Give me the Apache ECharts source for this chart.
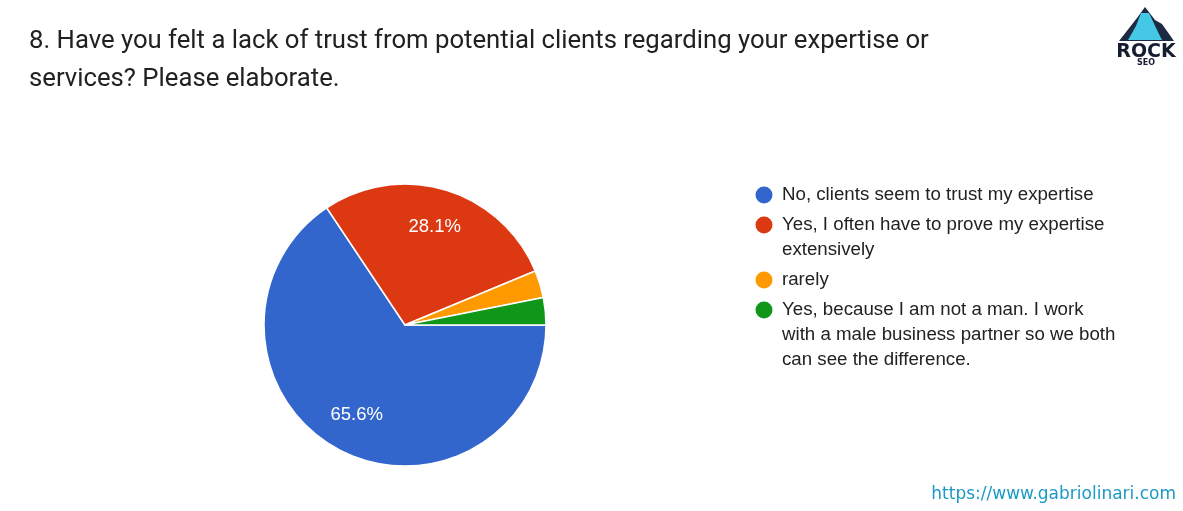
<!DOCTYPE html>
<html>
<head>
<meta charset="utf-8">
<script src="https://cdn.jsdelivr.net/npm/echarts@6/dist/echarts.min.js"></script>
<style>
html,body{margin:0;padding:0;background:#fff;}
#main{width:1183px;height:511px;}
</style>
</head>
<body>
<div id="main"></div>
<script>
const titleText = "8. Have you felt a lack of trust from potential clients regarding your expertise or\nservices? Please elaborate.";
const categories = [
  "No, clients seem to trust my expertise",
  "Yes, I often have to prove my expertise extensively",
  "rarely",
  "Yes, because I am not a man. I work with a male business partner so we both can see the difference."
];
// legend text as it is wrapped in the picture
const legendLabels = [
  "No, clients seem to trust my expertise",
  "Yes, I often have to prove my expertise\nextensively",
  "rarely",
  "Yes, because I am not a man. I work\nwith a male business partner so we both\ncan see the difference."
];
const counts = [21, 9, 1, 1];
const colors = ["#3366cc", "#dc3912", "#ff9900", "#109618"];
const footerText = "https://www.gabriolinari.com";

const chart = echarts.init(document.getElementById('main'), null, {renderer: 'canvas'});

const pieData = categories.map((c, i) => ({name: c, value: counts[i], itemStyle: {color: colors[i]}}));

// legend built from the category list
const legendItems = [];
let ly = 195;
legendLabels.forEach((c, i) => {
  legendItems.push({
    type: 'circle', shape: {cx: 764, cy: ly, r: 8.5}, style: {fill: colors[i]}
  });
  legendItems.push({
    type: 'text', x: 782, y: ly - 12.5,
    style: {
      text: c, lineHeight: 25,
      font: '18.7px "Liberation Sans", Arial, sans-serif', fill: '#222222',
      verticalAlign: 'top'
    }
  });
  const lines = c.split('\n').length;
  ly += lines * 25 + 5;
});

chart.setOption({
  animation: false,
  title: {
    text: titleText,
    left: 24, top: 18,
    textStyle: {fontFamily: 'Roboto', fontSize: 25.7, fontWeight: 'normal', color: '#212121', lineHeight: 38}
  },
  series: [
    {
      type: 'pie',
      center: [405, 325],
      radius: [0, 141],
      startAngle: 0,
      clockwise: true,
      silent: true,
      data: pieData,
      itemStyle: {borderColor: '#ffffff', borderWidth: 1.5},
      label: {show: false},
      labelLine: {show: false}
    },
    {
      type: 'pie',
      center: [405, 325],
      radius: [58, 141],
      startAngle: 0,
      clockwise: true,
      silent: true,
      data: pieData.map(d => ({name: d.name, value: d.value})),
      itemStyle: {color: 'rgba(0,0,0,0)', borderWidth: 0},
      label: {
        show: true, position: 'inside',
        formatter: p => p.percent >= 5 ? p.percent.toFixed(1) + '%' : '',
        color: '#ffffff', fontSize: 18.5, fontFamily: '"Liberation Sans", Arial, sans-serif'
      },
      labelLine: {show: false}
    }
  ],
  graphic: [
    ...legendItems,
    {
      type: 'text', x: 1176, y: 495,
      style: {text: footerText, align: 'right', verticalAlign: 'middle',
        font: '17px "DejaVu Sans", Verdana, sans-serif', fill: '#1b9ac6'}
    },
    // logo
    {
      type: 'polygon',
      shape: {points: [[1119, 41], [1137, 18], [1145, 7], [1155, 20], [1162, 24], [1174, 41]]},
      style: {fill: '#1d2a44'}
    },
    {
      type: 'polygon',
      shape: {points: [[1141, 13], [1149, 13], [1157, 30], [1162, 40], [1128, 40], [1136, 26]]},
      style: {fill: '#45c8e6'}
    },
    {
      type: 'text', x: 1146, y: 52,
      style: {text: 'ROCK', align: 'center', verticalAlign: 'middle',
        font: '900 19px "DejaVu Sans", sans-serif', fill: '#151d30'}
    },
    {
      type: 'text', x: 1146, y: 63,
      style: {text: 'SEO', align: 'center', verticalAlign: 'middle',
        font: 'bold 8px "DejaVu Sans", sans-serif', fill: '#151d30'}
    }
  ]
});
</script>
</body>
</html>
